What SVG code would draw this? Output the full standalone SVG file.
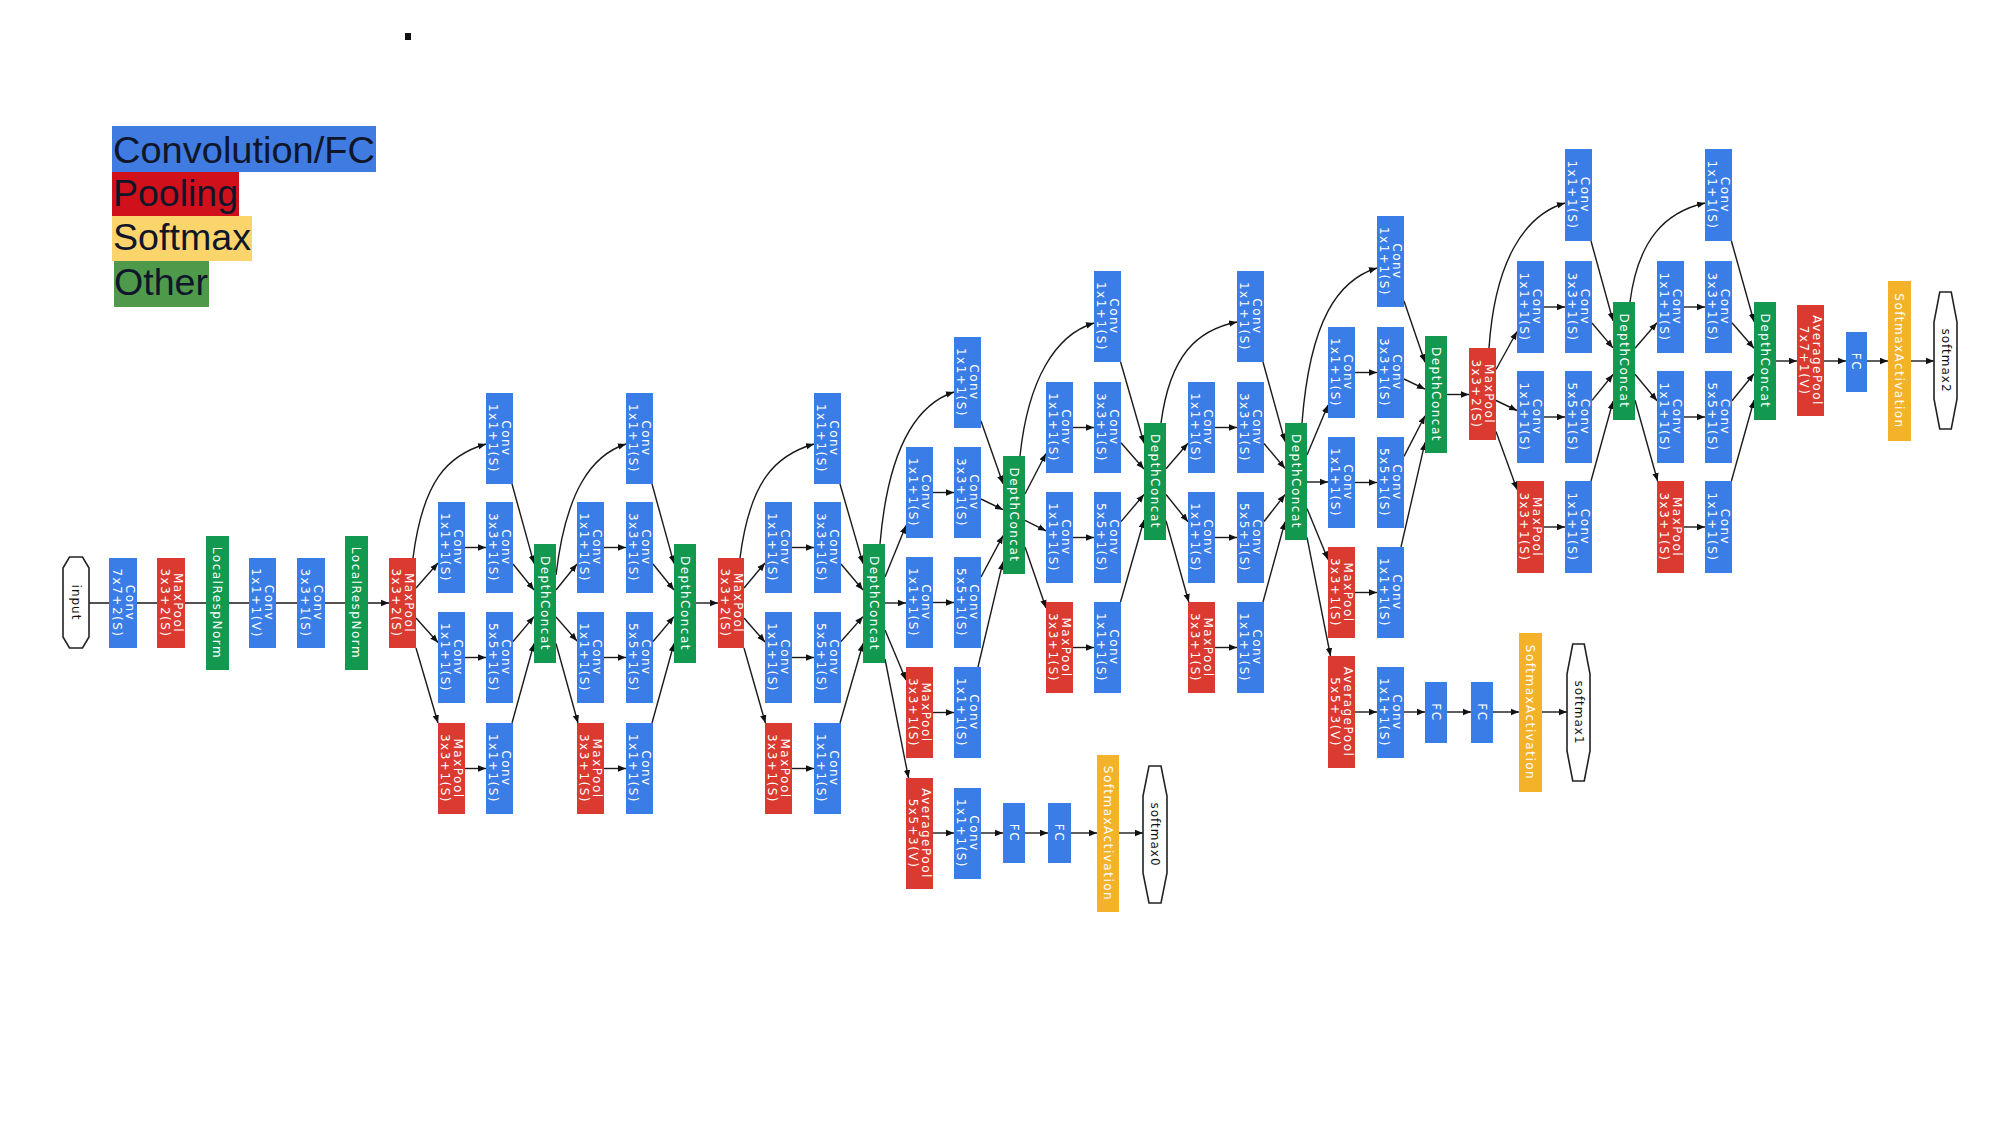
<svg xmlns="http://www.w3.org/2000/svg" width="2000" height="1125" viewBox="0 0 2000 1125">
<style>
.conv{fill:#3b7de6}.pool{fill:#da3a30}.oth{fill:#12994f}.soft{fill:#f3b22a}
.hex{fill:#fff;stroke:#222;stroke-width:1.6}
.t{font-family:"DejaVu Sans",Verdana,sans-serif;font-size:12px;fill:#fff;letter-spacing:1.5px;text-anchor:middle}
.h{font-family:"DejaVu Sans",Verdana,sans-serif;font-size:12px;fill:#111;letter-spacing:1px;text-anchor:middle}
.lg{font-family:"Liberation Sans",Arial,sans-serif;font-size:37px;fill:#10162a}
#edges path{stroke:#1a1a1a;stroke-width:1.4;fill:none;marker-end:url(#a)}
</style>
<defs>
<marker id="a" viewBox="0 0 10 10" refX="10" refY="5" markerWidth="8" markerHeight="8" markerUnits="userSpaceOnUse" orient="auto"><path d="M0,1 L10,5 L0,9 z" fill="#111"/></marker>
</defs>
<rect width="2000" height="1125" fill="#fff"/>
<rect x="405" y="33" width="6" height="7" fill="#111"/>
<g id="legend">
<rect x="112" y="126" width="264" height="46" fill="#3f7be0"/>
<rect x="112" y="172" width="127" height="44" fill="#d0111b"/>
<rect x="112" y="216" width="140" height="45" fill="#fcd46c"/>
<rect x="114" y="261" width="95" height="46" fill="#4f9a4a"/>
<text class="lg" x="113" y="163" textLength="262" lengthAdjust="spacingAndGlyphs">Convolution/FC</text>
<text class="lg" x="113" y="206" textLength="125" lengthAdjust="spacingAndGlyphs">Pooling</text>
<text class="lg" x="113" y="250" textLength="138" lengthAdjust="spacingAndGlyphs">Softmax</text>
<text class="lg" x="114" y="295" textLength="94" lengthAdjust="spacingAndGlyphs">Other</text>
</g>
<g id="edges">
<path d="M89 603H109M137 603H157M185 603H206M229 603H249M276 603H297M325 603H345M368 603H389"/>
<path d="M416 588L438 563"/><path d="M416 618L438 642.5"/><path d="M416 648L438 723"/><path d="M413 558C423 480 448 455 486 444"/>
<path d="M465 547.5H486"/><path d="M465 657.5H486"/><path d="M465 768.5H486"/>
<path d="M512 484L534 563.6"/><path d="M513 564L534 590"/><path d="M513 641.5L534 616.6"/><path d="M512 723L534 643.5"/>
<path d="M556 590L577 564"/><path d="M556 617L577 641"/><path d="M556 643.5L578 723"/><path d="M556 575C566 490 592 455 626 444"/>
<path d="M604 547.5H626"/><path d="M604 657.5H626"/><path d="M604 768.5H626"/>
<path d="M652 484L674 563.6"/><path d="M653 564L674 590"/><path d="M653 641.5L674 616.6"/><path d="M652 723L674 643.5"/>
<path d="M696 603H718"/>
<path d="M744 588L765 563"/><path d="M744 618L765 642"/><path d="M744 648L765.4 723"/><path d="M740 558C750 480 776 455 814 444"/>
<path d="M792 547.5H814"/><path d="M792 657.5H814"/><path d="M792 768.5H814"/>
<path d="M840 484L863 563.6"/><path d="M841 564L863 590"/><path d="M841 641.5L863 616.6"/><path d="M840 723L863 643.5"/>
<path d="M885 577L906 525.5"/><path d="M885 603H906"/><path d="M885 630L906 680"/><path d="M885 659L908.5 778"/><path d="M880 544C888 450 915 405 954 392"/>
<path d="M933 492.5H954"/><path d="M933 602.5H954"/><path d="M933 712.5H954"/>
<path d="M981 421L1003 483.7"/><path d="M981 499L1003 509.7"/><path d="M981 577L1003 535.7"/><path d="M978 667L1003 561.7"/>
<path d="M933 833H954"/><path d="M981 833H1003"/><path d="M1025 833H1048"/><path d="M1071 833H1097"/><path d="M1119 833H1143"/>
<path d="M1025 494L1046 453.5"/><path d="M1025 520.4L1046 530.8"/><path d="M1025 547L1046 608"/><path d="M1020 456C1028 380 1055 335 1094 323"/>
<path d="M1073 427.5H1094"/><path d="M1073 537.5H1094"/><path d="M1073 647.5H1094"/>
<path d="M1120.6 362L1144 443.3"/><path d="M1121 442.8L1144 469"/><path d="M1121 521.6L1144 494.5"/><path d="M1120.5 602L1144 520"/>
<path d="M1166 468.7L1188 443.2"/><path d="M1166 494.5L1188 521.8"/><path d="M1166 520.8L1188.8 602"/><path d="M1161 423C1170 355 1197 330 1237 322"/>
<path d="M1215 427.5H1237"/><path d="M1215 537.5H1237"/><path d="M1215 647.5H1237"/>
<path d="M1263 362L1285 441.6"/><path d="M1264 443.5L1285 468.4"/><path d="M1264 521.5L1285 494.6"/><path d="M1263 602L1285 521.7"/>
<path d="M1307 455L1328 405"/><path d="M1307 482H1328"/><path d="M1307 508.4L1328 559.5"/><path d="M1307 537.3L1330.5 656"/><path d="M1302 423C1310 320 1338 280 1377 268"/>
<path d="M1355 372.5H1377"/><path d="M1355 482.5H1377"/><path d="M1355 592.5H1377"/>
<path d="M1404 301L1425 362.3"/><path d="M1404 379L1425 389.2"/><path d="M1404 456.4L1425 415.8"/><path d="M1401 547L1425 442.4"/>
<path d="M1355 712H1377"/><path d="M1404 712H1425"/><path d="M1447 712H1471"/><path d="M1493 712H1519"/><path d="M1542 712H1567"/>
<path d="M1447 394.5H1469"/>
<path d="M1496 369.5L1517 331.5"/><path d="M1496 400.5L1517 410.5"/><path d="M1496 431.4L1517 489.6"/><path d="M1489 348C1495 260 1525 215 1565 203"/>
<path d="M1544 307H1565"/><path d="M1544 417H1565"/><path d="M1544 527H1565"/>
<path d="M1591 241L1613 320.8"/><path d="M1592 323L1613 347.9"/><path d="M1592 400.4L1613 374.5"/><path d="M1591 481L1613 401.2"/>
<path d="M1635 348.2L1657 322.7"/><path d="M1635 374.2L1657 400.8"/><path d="M1635 400.3L1657.6 481"/><path d="M1630 302C1638 240 1665 212 1705 203"/>
<path d="M1684 307H1705"/><path d="M1684 417H1705"/><path d="M1684 527H1705"/>
<path d="M1731.4 241L1754 321.7"/><path d="M1732 322.7L1754 348.2"/><path d="M1732 400.8L1754 373.8"/><path d="M1731.4 481L1754 400.3"/>
<path d="M1776 361H1797"/><path d="M1824 361H1846"/><path d="M1867 361H1888"/><path d="M1911 361H1934"/>
</g>
<g id="stem">
<g id="input"><polygon class="hex" points="69.5,557 82.5,557 89,568 89,637 82.5,648 69.5,648 63,637 63,568"/><text class="h" transform="translate(76 602.5) rotate(90)" y="4">input</text></g>
<g id="conv1"><rect class="conv" x="109" y="558" width="28" height="90"/><text class="t" transform="translate(123 603) rotate(90)"><tspan x="0" y="-2.5">Conv</tspan><tspan x="0" y="10.5">7x7+2(S)</tspan></text></g>
<g id="pool1"><rect class="pool" x="157" y="558" width="28" height="90"/><text class="t" transform="translate(171 603) rotate(90)"><tspan x="0" y="-2.5">MaxPool</tspan><tspan x="0" y="10.5">3x3+2(S)</tspan></text></g>
<g id="lrn1"><rect class="oth" x="206" y="536" width="23" height="134"/><text class="t" transform="translate(217.5 603) rotate(90)" y="4.5">LocalRespNorm</text></g>
<g id="conv2"><rect class="conv" x="249" y="558" width="27" height="90"/><text class="t" transform="translate(262.5 603) rotate(90)"><tspan x="0" y="-2.5">Conv</tspan><tspan x="0" y="10.5">1x1+1(V)</tspan></text></g>
<g id="conv3"><rect class="conv" x="297" y="558" width="28" height="90"/><text class="t" transform="translate(311 603) rotate(90)"><tspan x="0" y="-2.5">Conv</tspan><tspan x="0" y="10.5">3x3+1(S)</tspan></text></g>
<g id="lrn2"><rect class="oth" x="345" y="536" width="23" height="134"/><text class="t" transform="translate(356.5 603) rotate(90)" y="4.5">LocalRespNorm</text></g>
<g id="pool2"><rect class="pool" x="389" y="558" width="27" height="90"/><text class="t" transform="translate(402.5 603) rotate(90)"><tspan x="0" y="-2.5">MaxPool</tspan><tspan x="0" y="10.5">3x3+2(S)</tspan></text></g>
</g>
<g id="inc3a">
<g id="i3a_1"><rect class="conv" x="486" y="393" width="27" height="91"/><text class="t" transform="translate(499.5 438.5) rotate(90)"><tspan x="0" y="-2.5">Conv</tspan><tspan x="0" y="10.5">1x1+1(S)</tspan></text></g>
<g id="i3a_3r"><rect class="conv" x="438" y="502" width="27" height="91"/><text class="t" transform="translate(451.5 547.5) rotate(90)"><tspan x="0" y="-2.5">Conv</tspan><tspan x="0" y="10.5">1x1+1(S)</tspan></text></g>
<g id="i3a_3"><rect class="conv" x="486" y="502" width="27" height="91"/><text class="t" transform="translate(499.5 547.5) rotate(90)"><tspan x="0" y="-2.5">Conv</tspan><tspan x="0" y="10.5">3x3+1(S)</tspan></text></g>
<g id="i3a_5r"><rect class="conv" x="438" y="612" width="27" height="91"/><text class="t" transform="translate(451.5 657.5) rotate(90)"><tspan x="0" y="-2.5">Conv</tspan><tspan x="0" y="10.5">1x1+1(S)</tspan></text></g>
<g id="i3a_5"><rect class="conv" x="486" y="612" width="27" height="91"/><text class="t" transform="translate(499.5 657.5) rotate(90)"><tspan x="0" y="-2.5">Conv</tspan><tspan x="0" y="10.5">5x5+1(S)</tspan></text></g>
<g id="i3a_mp"><rect class="pool" x="438" y="723" width="27" height="91"/><text class="t" transform="translate(451.5 768.5) rotate(90)"><tspan x="0" y="-2.5">MaxPool</tspan><tspan x="0" y="10.5">3x3+1(S)</tspan></text></g>
<g id="i3a_pp"><rect class="conv" x="486" y="723" width="27" height="91"/><text class="t" transform="translate(499.5 768.5) rotate(90)"><tspan x="0" y="-2.5">Conv</tspan><tspan x="0" y="10.5">1x1+1(S)</tspan></text></g>
<g id="i3a_dc"><rect class="oth" x="534" y="544" width="22" height="119"/><text class="t" transform="translate(545 603.5) rotate(90)" y="4.5">DepthConcat</text></g>
</g>
<g id="inc3b">
<g id="i3b_1"><rect class="conv" x="626" y="393" width="27" height="91"/><text class="t" transform="translate(639.5 438.5) rotate(90)"><tspan x="0" y="-2.5">Conv</tspan><tspan x="0" y="10.5">1x1+1(S)</tspan></text></g>
<g id="i3b_3r"><rect class="conv" x="577" y="502" width="27" height="91"/><text class="t" transform="translate(590.5 547.5) rotate(90)"><tspan x="0" y="-2.5">Conv</tspan><tspan x="0" y="10.5">1x1+1(S)</tspan></text></g>
<g id="i3b_3"><rect class="conv" x="626" y="502" width="27" height="91"/><text class="t" transform="translate(639.5 547.5) rotate(90)"><tspan x="0" y="-2.5">Conv</tspan><tspan x="0" y="10.5">3x3+1(S)</tspan></text></g>
<g id="i3b_5r"><rect class="conv" x="577" y="612" width="27" height="91"/><text class="t" transform="translate(590.5 657.5) rotate(90)"><tspan x="0" y="-2.5">Conv</tspan><tspan x="0" y="10.5">1x1+1(S)</tspan></text></g>
<g id="i3b_5"><rect class="conv" x="626" y="612" width="27" height="91"/><text class="t" transform="translate(639.5 657.5) rotate(90)"><tspan x="0" y="-2.5">Conv</tspan><tspan x="0" y="10.5">5x5+1(S)</tspan></text></g>
<g id="i3b_mp"><rect class="pool" x="577" y="723" width="27" height="91"/><text class="t" transform="translate(590.5 768.5) rotate(90)"><tspan x="0" y="-2.5">MaxPool</tspan><tspan x="0" y="10.5">3x3+1(S)</tspan></text></g>
<g id="i3b_pp"><rect class="conv" x="626" y="723" width="27" height="91"/><text class="t" transform="translate(639.5 768.5) rotate(90)"><tspan x="0" y="-2.5">Conv</tspan><tspan x="0" y="10.5">1x1+1(S)</tspan></text></g>
<g id="i3b_dc"><rect class="oth" x="674" y="544" width="22" height="119"/><text class="t" transform="translate(685 603.5) rotate(90)" y="4.5">DepthConcat</text></g>
</g>
<g id="pool3"><rect class="pool" x="718" y="558" width="26" height="90"/><text class="t" transform="translate(731 603) rotate(90)"><tspan x="0" y="-2.5">MaxPool</tspan><tspan x="0" y="10.5">3x3+2(S)</tspan></text></g>
<g id="inc4a">
<g id="i4a_1"><rect class="conv" x="814" y="393" width="27" height="91"/><text class="t" transform="translate(827.5 438.5) rotate(90)"><tspan x="0" y="-2.5">Conv</tspan><tspan x="0" y="10.5">1x1+1(S)</tspan></text></g>
<g id="i4a_3r"><rect class="conv" x="765" y="502" width="27" height="91"/><text class="t" transform="translate(778.5 547.5) rotate(90)"><tspan x="0" y="-2.5">Conv</tspan><tspan x="0" y="10.5">1x1+1(S)</tspan></text></g>
<g id="i4a_3"><rect class="conv" x="814" y="502" width="27" height="91"/><text class="t" transform="translate(827.5 547.5) rotate(90)"><tspan x="0" y="-2.5">Conv</tspan><tspan x="0" y="10.5">3x3+1(S)</tspan></text></g>
<g id="i4a_5r"><rect class="conv" x="765" y="612" width="27" height="91"/><text class="t" transform="translate(778.5 657.5) rotate(90)"><tspan x="0" y="-2.5">Conv</tspan><tspan x="0" y="10.5">1x1+1(S)</tspan></text></g>
<g id="i4a_5"><rect class="conv" x="814" y="612" width="27" height="91"/><text class="t" transform="translate(827.5 657.5) rotate(90)"><tspan x="0" y="-2.5">Conv</tspan><tspan x="0" y="10.5">5x5+1(S)</tspan></text></g>
<g id="i4a_mp"><rect class="pool" x="765" y="723" width="27" height="91"/><text class="t" transform="translate(778.5 768.5) rotate(90)"><tspan x="0" y="-2.5">MaxPool</tspan><tspan x="0" y="10.5">3x3+1(S)</tspan></text></g>
<g id="i4a_pp"><rect class="conv" x="814" y="723" width="27" height="91"/><text class="t" transform="translate(827.5 768.5) rotate(90)"><tspan x="0" y="-2.5">Conv</tspan><tspan x="0" y="10.5">1x1+1(S)</tspan></text></g>
<g id="i4a_dc"><rect class="oth" x="863" y="544" width="22" height="119"/><text class="t" transform="translate(874 603.5) rotate(90)" y="4.5">DepthConcat</text></g>
</g>
<g id="inc4b">
<g id="i4b_1"><rect class="conv" x="954" y="337" width="27" height="91"/><text class="t" transform="translate(967.5 382.5) rotate(90)"><tspan x="0" y="-2.5">Conv</tspan><tspan x="0" y="10.5">1x1+1(S)</tspan></text></g>
<g id="i4b_3r"><rect class="conv" x="906" y="447" width="27" height="91"/><text class="t" transform="translate(919.5 492.5) rotate(90)"><tspan x="0" y="-2.5">Conv</tspan><tspan x="0" y="10.5">1x1+1(S)</tspan></text></g>
<g id="i4b_3"><rect class="conv" x="954" y="447" width="27" height="91"/><text class="t" transform="translate(967.5 492.5) rotate(90)"><tspan x="0" y="-2.5">Conv</tspan><tspan x="0" y="10.5">3x3+1(S)</tspan></text></g>
<g id="i4b_5r"><rect class="conv" x="906" y="557" width="27" height="91"/><text class="t" transform="translate(919.5 602.5) rotate(90)"><tspan x="0" y="-2.5">Conv</tspan><tspan x="0" y="10.5">1x1+1(S)</tspan></text></g>
<g id="i4b_5"><rect class="conv" x="954" y="557" width="27" height="91"/><text class="t" transform="translate(967.5 602.5) rotate(90)"><tspan x="0" y="-2.5">Conv</tspan><tspan x="0" y="10.5">5x5+1(S)</tspan></text></g>
<g id="i4b_mp"><rect class="pool" x="906" y="667" width="27" height="91"/><text class="t" transform="translate(919.5 712.5) rotate(90)"><tspan x="0" y="-2.5">MaxPool</tspan><tspan x="0" y="10.5">3x3+1(S)</tspan></text></g>
<g id="i4b_pp"><rect class="conv" x="954" y="667" width="27" height="91"/><text class="t" transform="translate(967.5 712.5) rotate(90)"><tspan x="0" y="-2.5">Conv</tspan><tspan x="0" y="10.5">1x1+1(S)</tspan></text></g>
<g id="i4b_dc"><rect class="oth" x="1003" y="456" width="22" height="118"/><text class="t" transform="translate(1014 515) rotate(90)" y="4.5">DepthConcat</text></g>
</g>
<g id="aux0">
<g id="a0_avg"><rect class="pool" x="906" y="778" width="27" height="111"/><text class="t" transform="translate(919.5 833.5) rotate(90)"><tspan x="0" y="-2.5">AveragePool</tspan><tspan x="0" y="10.5">5x5+3(V)</tspan></text></g>
<g id="a0_conv"><rect class="conv" x="954" y="788" width="27" height="91"/><text class="t" transform="translate(967.5 833.5) rotate(90)"><tspan x="0" y="-2.5">Conv</tspan><tspan x="0" y="10.5">1x1+1(S)</tspan></text></g>
<g id="a0_fc1"><rect class="conv" x="1003" y="803" width="22" height="60"/><text class="t" transform="translate(1014 833) rotate(90)" y="4.5">FC</text></g>
<g id="a0_fc2"><rect class="conv" x="1048" y="803" width="23" height="60"/><text class="t" transform="translate(1059.5 833) rotate(90)" y="4.5">FC</text></g>
<g id="a0_sm"><rect class="soft" x="1097" y="755" width="22" height="157"/><text class="t" transform="translate(1108 833.5) rotate(90)" y="4.5">SoftmaxActivation</text></g>
<g id="softmax0"><polygon class="hex" points="1149,766 1161,766 1167,796 1167,873 1161,903 1149,903 1143,873 1143,796"/><text class="h" transform="translate(1155 834.5) rotate(90)" y="4">softmax0</text></g>
</g>
<g id="inc4c">
<g id="i4c_1"><rect class="conv" x="1094" y="271" width="27" height="91"/><text class="t" transform="translate(1107.5 316.5) rotate(90)"><tspan x="0" y="-2.5">Conv</tspan><tspan x="0" y="10.5">1x1+1(S)</tspan></text></g>
<g id="i4c_3r"><rect class="conv" x="1046" y="382" width="27" height="91"/><text class="t" transform="translate(1059.5 427.5) rotate(90)"><tspan x="0" y="-2.5">Conv</tspan><tspan x="0" y="10.5">1x1+1(S)</tspan></text></g>
<g id="i4c_3"><rect class="conv" x="1094" y="382" width="27" height="91"/><text class="t" transform="translate(1107.5 427.5) rotate(90)"><tspan x="0" y="-2.5">Conv</tspan><tspan x="0" y="10.5">3x3+1(S)</tspan></text></g>
<g id="i4c_5r"><rect class="conv" x="1046" y="492" width="27" height="91"/><text class="t" transform="translate(1059.5 537.5) rotate(90)"><tspan x="0" y="-2.5">Conv</tspan><tspan x="0" y="10.5">1x1+1(S)</tspan></text></g>
<g id="i4c_5"><rect class="conv" x="1094" y="492" width="27" height="91"/><text class="t" transform="translate(1107.5 537.5) rotate(90)"><tspan x="0" y="-2.5">Conv</tspan><tspan x="0" y="10.5">5x5+1(S)</tspan></text></g>
<g id="i4c_mp"><rect class="pool" x="1046" y="602" width="27" height="91"/><text class="t" transform="translate(1059.5 647.5) rotate(90)"><tspan x="0" y="-2.5">MaxPool</tspan><tspan x="0" y="10.5">3x3+1(S)</tspan></text></g>
<g id="i4c_pp"><rect class="conv" x="1094" y="602" width="27" height="91"/><text class="t" transform="translate(1107.5 647.5) rotate(90)"><tspan x="0" y="-2.5">Conv</tspan><tspan x="0" y="10.5">1x1+1(S)</tspan></text></g>
<g id="i4c_dc"><rect class="oth" x="1144" y="423" width="22" height="117"/><text class="t" transform="translate(1155 481.5) rotate(90)" y="4.5">DepthConcat</text></g>
</g>
<g id="inc4d">
<g id="i4d_1"><rect class="conv" x="1237" y="271" width="27" height="91"/><text class="t" transform="translate(1250.5 316.5) rotate(90)"><tspan x="0" y="-2.5">Conv</tspan><tspan x="0" y="10.5">1x1+1(S)</tspan></text></g>
<g id="i4d_3r"><rect class="conv" x="1188" y="382" width="27" height="91"/><text class="t" transform="translate(1201.5 427.5) rotate(90)"><tspan x="0" y="-2.5">Conv</tspan><tspan x="0" y="10.5">1x1+1(S)</tspan></text></g>
<g id="i4d_3"><rect class="conv" x="1237" y="382" width="27" height="91"/><text class="t" transform="translate(1250.5 427.5) rotate(90)"><tspan x="0" y="-2.5">Conv</tspan><tspan x="0" y="10.5">3x3+1(S)</tspan></text></g>
<g id="i4d_5r"><rect class="conv" x="1188" y="492" width="27" height="91"/><text class="t" transform="translate(1201.5 537.5) rotate(90)"><tspan x="0" y="-2.5">Conv</tspan><tspan x="0" y="10.5">1x1+1(S)</tspan></text></g>
<g id="i4d_5"><rect class="conv" x="1237" y="492" width="27" height="91"/><text class="t" transform="translate(1250.5 537.5) rotate(90)"><tspan x="0" y="-2.5">Conv</tspan><tspan x="0" y="10.5">5x5+1(S)</tspan></text></g>
<g id="i4d_mp"><rect class="pool" x="1188" y="602" width="27" height="91"/><text class="t" transform="translate(1201.5 647.5) rotate(90)"><tspan x="0" y="-2.5">MaxPool</tspan><tspan x="0" y="10.5">3x3+1(S)</tspan></text></g>
<g id="i4d_pp"><rect class="conv" x="1237" y="602" width="27" height="91"/><text class="t" transform="translate(1250.5 647.5) rotate(90)"><tspan x="0" y="-2.5">Conv</tspan><tspan x="0" y="10.5">1x1+1(S)</tspan></text></g>
<g id="i4d_dc"><rect class="oth" x="1285" y="423" width="22" height="117"/><text class="t" transform="translate(1296 481.5) rotate(90)" y="4.5">DepthConcat</text></g>
</g>
<g id="inc4e">
<g id="i4e_1"><rect class="conv" x="1377" y="216" width="27" height="91"/><text class="t" transform="translate(1390.5 261.5) rotate(90)"><tspan x="0" y="-2.5">Conv</tspan><tspan x="0" y="10.5">1x1+1(S)</tspan></text></g>
<g id="i4e_3r"><rect class="conv" x="1328" y="327" width="27" height="91"/><text class="t" transform="translate(1341.5 372.5) rotate(90)"><tspan x="0" y="-2.5">Conv</tspan><tspan x="0" y="10.5">1x1+1(S)</tspan></text></g>
<g id="i4e_3"><rect class="conv" x="1377" y="327" width="27" height="91"/><text class="t" transform="translate(1390.5 372.5) rotate(90)"><tspan x="0" y="-2.5">Conv</tspan><tspan x="0" y="10.5">3x3+1(S)</tspan></text></g>
<g id="i4e_5r"><rect class="conv" x="1328" y="437" width="27" height="91"/><text class="t" transform="translate(1341.5 482.5) rotate(90)"><tspan x="0" y="-2.5">Conv</tspan><tspan x="0" y="10.5">1x1+1(S)</tspan></text></g>
<g id="i4e_5"><rect class="conv" x="1377" y="437" width="27" height="91"/><text class="t" transform="translate(1390.5 482.5) rotate(90)"><tspan x="0" y="-2.5">Conv</tspan><tspan x="0" y="10.5">5x5+1(S)</tspan></text></g>
<g id="i4e_mp"><rect class="pool" x="1328" y="547" width="27" height="91"/><text class="t" transform="translate(1341.5 592.5) rotate(90)"><tspan x="0" y="-2.5">MaxPool</tspan><tspan x="0" y="10.5">3x3+1(S)</tspan></text></g>
<g id="i4e_pp"><rect class="conv" x="1377" y="547" width="27" height="91"/><text class="t" transform="translate(1390.5 592.5) rotate(90)"><tspan x="0" y="-2.5">Conv</tspan><tspan x="0" y="10.5">1x1+1(S)</tspan></text></g>
<g id="i4e_dc"><rect class="oth" x="1425" y="336" width="22" height="117"/><text class="t" transform="translate(1436 394.5) rotate(90)" y="4.5">DepthConcat</text></g>
</g>
<g id="aux1">
<g id="a1_avg"><rect class="pool" x="1328" y="656" width="27" height="112"/><text class="t" transform="translate(1341.5 712) rotate(90)"><tspan x="0" y="-2.5">AveragePool</tspan><tspan x="0" y="10.5">5x5+3(V)</tspan></text></g>
<g id="a1_conv"><rect class="conv" x="1377" y="667" width="27" height="91"/><text class="t" transform="translate(1390.5 712.5) rotate(90)"><tspan x="0" y="-2.5">Conv</tspan><tspan x="0" y="10.5">1x1+1(S)</tspan></text></g>
<g id="a1_fc1"><rect class="conv" x="1425" y="682" width="22" height="61"/><text class="t" transform="translate(1436 712.5) rotate(90)" y="4.5">FC</text></g>
<g id="a1_fc2"><rect class="conv" x="1471" y="682" width="22" height="61"/><text class="t" transform="translate(1482 712.5) rotate(90)" y="4.5">FC</text></g>
<g id="a1_sm"><rect class="soft" x="1519" y="633" width="23" height="159"/><text class="t" transform="translate(1530.5 712.5) rotate(90)" y="4.5">SoftmaxActivation</text></g>
<g id="softmax1"><polygon class="hex" points="1572.75,644 1584.25,644 1590,674 1590,751 1584.25,781 1572.75,781 1567,751 1567,674"/><text class="h" transform="translate(1578.5 712.5) rotate(90)" y="4">softmax1</text></g>
</g>
<g id="pool4"><rect class="pool" x="1469" y="348" width="27" height="92"/><text class="t" transform="translate(1482.5 394) rotate(90)"><tspan x="0" y="-2.5">MaxPool</tspan><tspan x="0" y="10.5">3x3+2(S)</tspan></text></g>
<g id="inc5a">
<g id="i5a_1"><rect class="conv" x="1565" y="149" width="27" height="92"/><text class="t" transform="translate(1578.5 195) rotate(90)"><tspan x="0" y="-2.5">Conv</tspan><tspan x="0" y="10.5">1x1+1(S)</tspan></text></g>
<g id="i5a_3r"><rect class="conv" x="1517" y="261" width="27" height="92"/><text class="t" transform="translate(1530.5 307) rotate(90)"><tspan x="0" y="-2.5">Conv</tspan><tspan x="0" y="10.5">1x1+1(S)</tspan></text></g>
<g id="i5a_3"><rect class="conv" x="1565" y="261" width="27" height="92"/><text class="t" transform="translate(1578.5 307) rotate(90)"><tspan x="0" y="-2.5">Conv</tspan><tspan x="0" y="10.5">3x3+1(S)</tspan></text></g>
<g id="i5a_5r"><rect class="conv" x="1517" y="371" width="27" height="92"/><text class="t" transform="translate(1530.5 417) rotate(90)"><tspan x="0" y="-2.5">Conv</tspan><tspan x="0" y="10.5">1x1+1(S)</tspan></text></g>
<g id="i5a_5"><rect class="conv" x="1565" y="371" width="27" height="92"/><text class="t" transform="translate(1578.5 417) rotate(90)"><tspan x="0" y="-2.5">Conv</tspan><tspan x="0" y="10.5">5x5+1(S)</tspan></text></g>
<g id="i5a_mp"><rect class="pool" x="1517" y="481" width="27" height="92"/><text class="t" transform="translate(1530.5 527) rotate(90)"><tspan x="0" y="-2.5">MaxPool</tspan><tspan x="0" y="10.5">3x3+1(S)</tspan></text></g>
<g id="i5a_pp"><rect class="conv" x="1565" y="481" width="27" height="92"/><text class="t" transform="translate(1578.5 527) rotate(90)"><tspan x="0" y="-2.5">Conv</tspan><tspan x="0" y="10.5">1x1+1(S)</tspan></text></g>
<g id="i5a_dc"><rect class="oth" x="1613" y="302" width="22" height="118"/><text class="t" transform="translate(1624 361) rotate(90)" y="4.5">DepthConcat</text></g>
</g>
<g id="inc5b">
<g id="i5b_1"><rect class="conv" x="1705" y="149" width="27" height="92"/><text class="t" transform="translate(1718.5 195) rotate(90)"><tspan x="0" y="-2.5">Conv</tspan><tspan x="0" y="10.5">1x1+1(S)</tspan></text></g>
<g id="i5b_3r"><rect class="conv" x="1657" y="261" width="27" height="92"/><text class="t" transform="translate(1670.5 307) rotate(90)"><tspan x="0" y="-2.5">Conv</tspan><tspan x="0" y="10.5">1x1+1(S)</tspan></text></g>
<g id="i5b_3"><rect class="conv" x="1705" y="261" width="27" height="92"/><text class="t" transform="translate(1718.5 307) rotate(90)"><tspan x="0" y="-2.5">Conv</tspan><tspan x="0" y="10.5">3x3+1(S)</tspan></text></g>
<g id="i5b_5r"><rect class="conv" x="1657" y="371" width="27" height="92"/><text class="t" transform="translate(1670.5 417) rotate(90)"><tspan x="0" y="-2.5">Conv</tspan><tspan x="0" y="10.5">1x1+1(S)</tspan></text></g>
<g id="i5b_5"><rect class="conv" x="1705" y="371" width="27" height="92"/><text class="t" transform="translate(1718.5 417) rotate(90)"><tspan x="0" y="-2.5">Conv</tspan><tspan x="0" y="10.5">5x5+1(S)</tspan></text></g>
<g id="i5b_mp"><rect class="pool" x="1657" y="481" width="27" height="92"/><text class="t" transform="translate(1670.5 527) rotate(90)"><tspan x="0" y="-2.5">MaxPool</tspan><tspan x="0" y="10.5">3x3+1(S)</tspan></text></g>
<g id="i5b_pp"><rect class="conv" x="1705" y="481" width="27" height="92"/><text class="t" transform="translate(1718.5 527) rotate(90)"><tspan x="0" y="-2.5">Conv</tspan><tspan x="0" y="10.5">1x1+1(S)</tspan></text></g>
<g id="i5b_dc"><rect class="oth" x="1754" y="302" width="22" height="118"/><text class="t" transform="translate(1765 361) rotate(90)" y="4.5">DepthConcat</text></g>
</g>
<g id="head">
<g id="f_avg"><rect class="pool" x="1797" y="305" width="27" height="111"/><text class="t" transform="translate(1810.5 360.5) rotate(90)"><tspan x="0" y="-2.5">AveragePool</tspan><tspan x="0" y="10.5">7x7+1(V)</tspan></text></g>
<g id="f_fc"><rect class="conv" x="1846" y="332" width="21" height="60"/><text class="t" transform="translate(1856.5 362) rotate(90)" y="4.5">FC</text></g>
<g id="f_sm"><rect class="soft" x="1888" y="281" width="23" height="160"/><text class="t" transform="translate(1899.5 361) rotate(90)" y="4.5">SoftmaxActivation</text></g>
<g id="softmax2"><polygon class="hex" points="1939.75,292 1951.25,292 1957,322 1957,399 1951.25,429 1939.75,429 1934,399 1934,322"/><text class="h" transform="translate(1945.5 360.5) rotate(90)" y="4">softmax2</text></g>
</g>
</svg>
